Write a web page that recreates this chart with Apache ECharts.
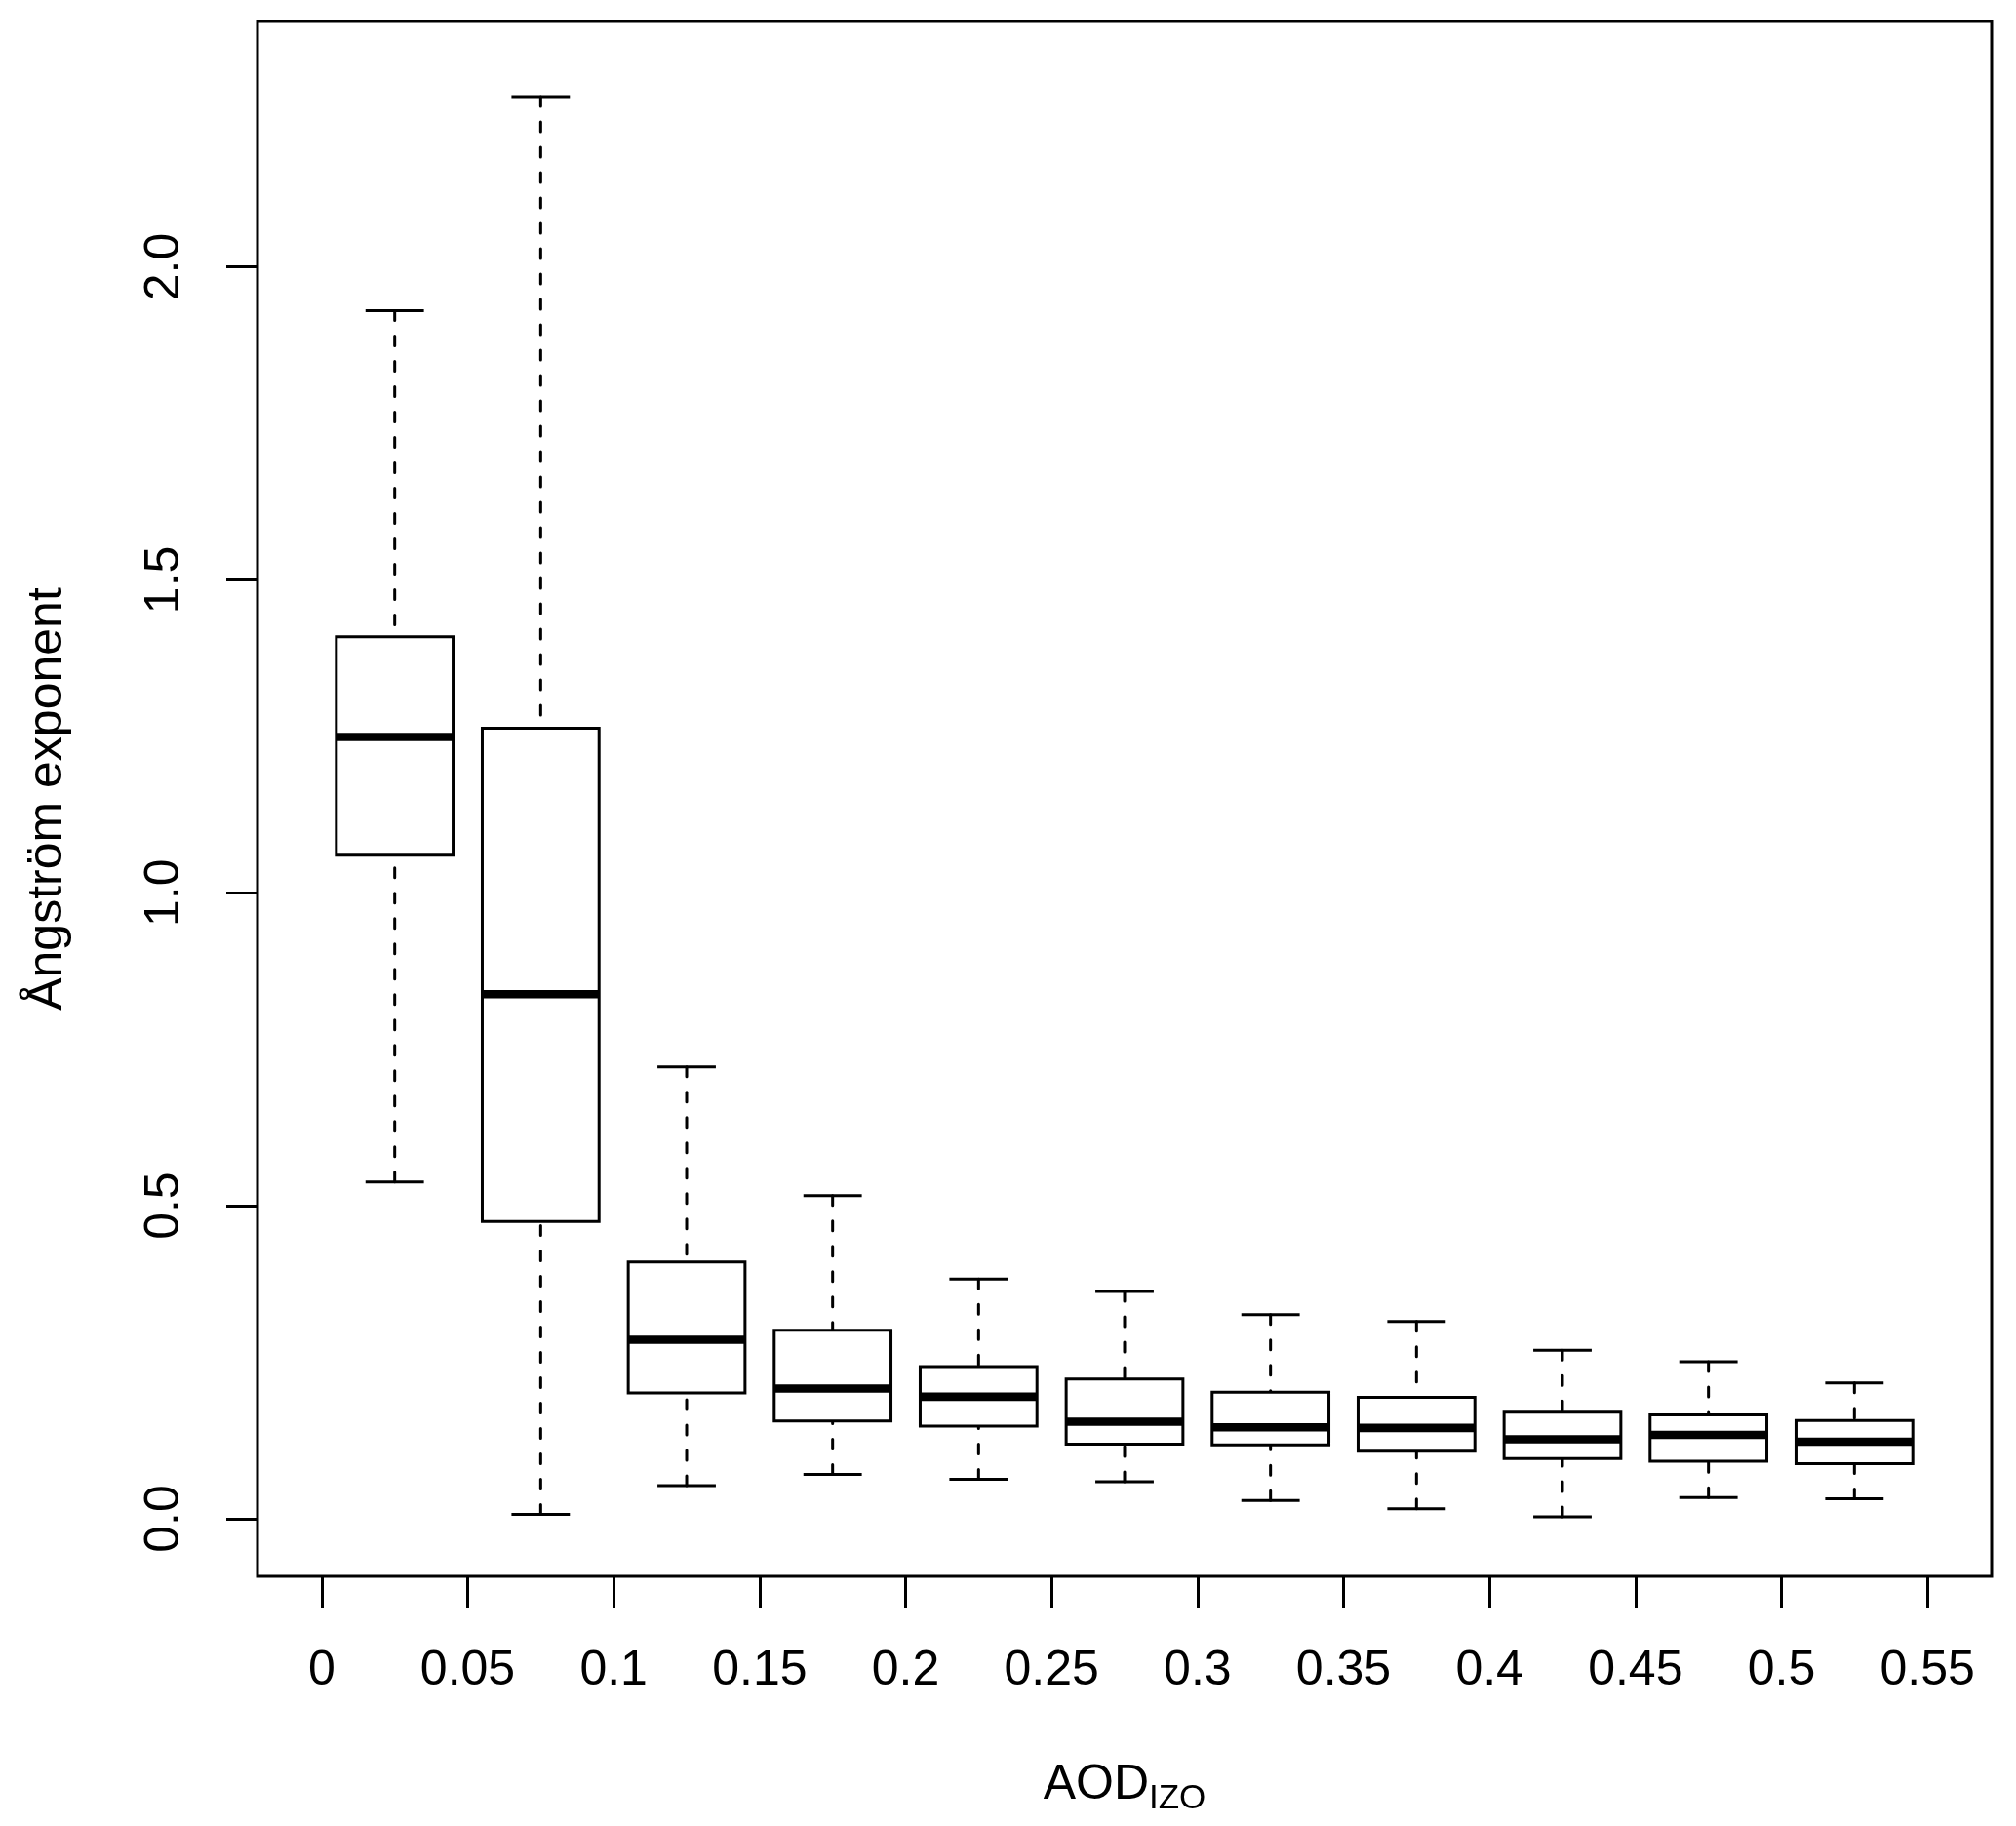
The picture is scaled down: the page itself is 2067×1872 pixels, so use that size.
<!DOCTYPE html>
<html>
<head>
<meta charset="utf-8">
<script src="https://cdn.jsdelivr.net/npm/echarts@6/dist/echarts.min.js"></script>
<style>
  html, body { margin: 0; padding: 0; background: #fff; }
  #chart { width: 2067px; height: 1872px; }
</style>
</head>
<body>
<div id="chart"></div>
<script>
// ---- Data ----
const tickLabels = ['0', '0.05', '0.1', '0.15', '0.2', '0.25', '0.3', '0.35', '0.4', '0.45', '0.5', '0.55'];
const tickValues = [0, 0.05, 0.1, 0.15, 0.2, 0.25, 0.3, 0.35, 0.4, 0.45, 0.5, 0.55];
const yTickValues = [0, 0.5, 1.0, 1.5, 2.0];

const lowerWhisker = [0.538, 0.007, 0.053, 0.071, 0.063, 0.059, 0.029, 0.016, 0.003, 0.034, 0.032];
const q1Values     = [1.060, 0.475, 0.201, 0.156, 0.148, 0.119, 0.118, 0.108, 0.096, 0.092, 0.088];
const medianValues = [1.249, 0.838, 0.286, 0.208, 0.195, 0.155, 0.146, 0.145, 0.127, 0.134, 0.123];
const q3Values     = [1.409, 1.263, 0.410, 0.301, 0.243, 0.223, 0.202, 0.194, 0.170, 0.166, 0.157];
const upperWhisker = [1.930, 2.272, 0.722, 0.516, 0.383, 0.363, 0.326, 0.315, 0.269, 0.251, 0.217];

// ---- Build series data: each box centered between consecutive bin edges ----
const boxData = [];
for (let i = 0; i < lowerWhisker.length; i++) {
  const center = (tickValues[i] + tickValues[i + 1]) / 2;
  boxData.push([center, lowerWhisker[i], q1Values[i], medianValues[i], q3Values[i], upperWhisker[i]]);
}
const binWidth = tickValues[1] - tickValues[0];
const boxWidth = binWidth * 0.8;

const FONT = '"Liberation Sans", Arial, Helvetica, sans-serif';
const chart = echarts.init(document.getElementById('chart'), null, { renderer: 'canvas' });

chart.setOption({
  backgroundColor: '#ffffff',
  animation: false,
  grid: {
    left: 264, right: 25, top: 22, bottom: 256,
    show: true, borderColor: '#000', borderWidth: 3, backgroundColor: 'transparent'
  },
  xAxis: {
    type: 'value',
    min: -0.022, max: 0.572,
    axisLine: { show: false, onZero: false },
    splitLine: { show: false },
    axisTick: {
      show: true, length: 32, inside: false,
      customValues: tickValues,
      lineStyle: { color: '#000', width: 3 }
    },
    axisLabel: {
      show: true, margin: 72,
      customValues: tickValues,
      color: '#000', fontSize: 50, fontFamily: FONT,
      formatter: function (v) {
        const idx = tickValues.findIndex(t => Math.abs(t - v) < 1e-9);
        return idx >= 0 ? tickLabels[idx] : '';
      }
    },
    name: '{m|AOD}{s|IZO}',
    nameLocation: 'middle',
    nameGap: 189,
    nameTextStyle: {
      color: '#000', fontFamily: FONT,
      rich: {
        m: { fontSize: 50, fontFamily: FONT, color: '#000', lineHeight: 50, verticalAlign: 'top' },
        s: { fontSize: 35, fontFamily: FONT, color: '#000', lineHeight: 35, padding: [22, 0, 0, 0], verticalAlign: 'top' }
      }
    }
  },
  yAxis: {
    type: 'value',
    min: -0.092, max: 2.392,
    axisLine: { show: false, onZero: false },
    splitLine: { show: false },
    axisTick: {
      show: true, length: 32, inside: false,
      customValues: yTickValues,
      lineStyle: { color: '#000', width: 3 }
    },
    axisLabel: {
      show: true, margin: 70, rotate: 90,
      customValues: yTickValues,
      color: '#000', fontSize: 50, fontFamily: FONT,
      formatter: function (v) { return v.toFixed(1); }
    },
    name: 'Ångström exponent',
    nameLocation: 'middle',
    nameRotate: 90,
    nameGap: 190,
    nameTextStyle: { color: '#000', fontSize: 50, fontFamily: FONT }
  },
  series: [{
    type: 'custom',
    data: boxData,
    encode: { x: 0, y: [1, 2, 3, 4, 5] },
    renderItem: function (params, api) {
      const x = api.value(0);
      const pLo = api.coord([x, api.value(1)]);
      const pQ1 = api.coord([x, api.value(2)]);
      const pMed = api.coord([x, api.value(3)]);
      const pQ3 = api.coord([x, api.value(4)]);
      const pHi = api.coord([x, api.value(5)]);
      const halfW = api.size([boxWidth, 0])[0] / 2;
      const cx = pMed[0];
      const dashStyle = { stroke: '#000', lineWidth: 3, lineDash: [10, 16], lineCap: 'round', fill: null };
      const solid = { stroke: '#000', lineWidth: 3, fill: null };
      return {
        type: 'group',
        children: [
          { type: 'line', shape: { x1: cx, y1: pHi[1], x2: cx, y2: pQ3[1] }, style: dashStyle },
          { type: 'line', shape: { x1: cx, y1: pLo[1], x2: cx, y2: pQ1[1] }, style: dashStyle },
          { type: 'line', shape: { x1: cx - halfW / 2, y1: pHi[1], x2: cx + halfW / 2, y2: pHi[1] }, style: solid },
          { type: 'line', shape: { x1: cx - halfW / 2, y1: pLo[1], x2: cx + halfW / 2, y2: pLo[1] }, style: solid },
          { type: 'rect', shape: { x: cx - halfW, y: pQ3[1], width: 2 * halfW, height: pQ1[1] - pQ3[1] },
            style: { fill: '#fff', stroke: '#000', lineWidth: 3 } },
          { type: 'rect', shape: { x: cx - halfW, y: pMed[1] - 4.3, width: 2 * halfW, height: 8.6 },
            style: { fill: '#000', stroke: null } }
        ]
      };
    }
  }]
});
</script>
</body>
</html>
